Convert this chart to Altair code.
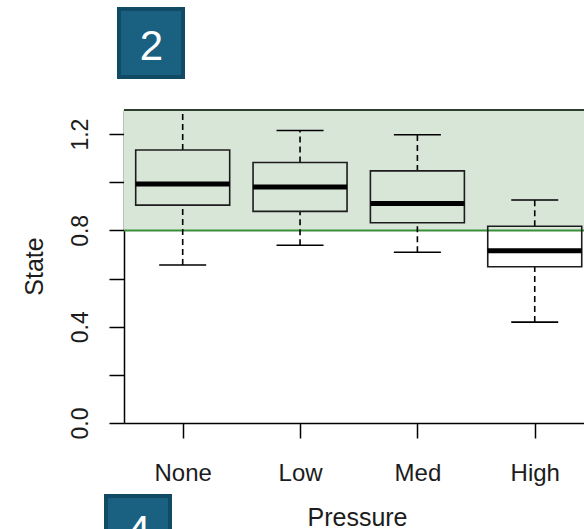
import json
import altair as alt
import pandas as pd

# ---- data ----
categories = ["None", "Low", "Med", "High"]
whisker_low = [0.656, 0.738, 0.709, 0.419]
quartile_1 = [0.905, 0.879, 0.832, 0.649]
medians = [0.993, 0.980, 0.912, 0.715]
quartile_3 = [1.134, 1.082, 1.047, 0.817]
whisker_high = [1.36, 1.215, 1.197, 0.926]
y_ticks = [0.0, 0.2, 0.4, 0.6, 0.8, 1.0, 1.2]
y_labelled = [0.0, 0.4, 0.8, 1.2]
threshold = [0.8]
zone_top = [1.30]
badges = ["2", "4"]

FONT = "Liberation Sans"
INK = "#1c1c1c"
W, H = 460, 313

df = pd.DataFrame({
    "cat": categories,
    "lo": whisker_low,
    "q1": quartile_1,
    "med": medians,
    "q3": quartile_3,
    "hi": whisker_high,
})
zone = pd.DataFrame({"y0": threshold, "y1": zone_top})

label_expr = (
    f"indexof({json.dumps(y_labelled)}, datum.value) >= 0 ? format(datum.value, '.1f') : ''"
)

yscale = alt.Scale(domain=[0.0, zone_top[0]], nice=False, zero=False)
yaxis = alt.Axis(
    values=y_ticks, labelExpr=label_expr, grid=False,
    domainColor="#000", domainWidth=1.5, tickColor="#000", tickWidth=1.5, tickSize=15,
    labelAngle=270, labelAlign="center", labelBaseline="alphabetic", labelPadding=22,
    labelFont=FONT, labelFontSize=23, labelColor=INK, labelOverlap=False,
    titleFont=FONT, titleFontSize=25, titleFontWeight="normal", titleColor=INK,
    titleAngle=270, titleAlign="center", titleBaseline="alphabetic",
    titleX=-82, titleY=156,
)
xscale = alt.Scale(type="point", domain=categories, padding=0.46, align=0.5437)
xaxis = alt.Axis(
    grid=False, labelAngle=0,
    domainColor="#000", domainWidth=1.5, tickColor="#000", tickWidth=1.5, tickSize=15,
    labelFont=FONT, labelFontSize=24, labelColor=INK, labelBaseline="alphabetic",
    labelPadding=42,
    titleFont=FONT, titleFontSize=25, titleFontWeight="normal", titleColor=INK,
    titleAlign="center", titleBaseline="alphabetic", titleX=233, titleY=102,
)


def X():
    return alt.X("cat:N", scale=xscale, axis=xaxis, title="Pressure", sort=categories)


def Y(field):
    return alt.Y(f"{field}:Q", scale=yscale, axis=yaxis, title="State")


base = alt.Chart(df)

zone_rect = alt.Chart(zone).mark_rect(color="#d8e6d8", opacity=1).encode(
    x=alt.value(0), x2=alt.value(W), y=Y("y0"), y2="y1"
)
zone_border = alt.Chart(zone).mark_rule(color="#2f3d2f", strokeWidth=2, opacity=1).encode(
    x=alt.value(0), x2=alt.value(W), y=Y("y1")
)
zone_line = alt.Chart(zone).mark_rule(color="#3a8f3a", strokeWidth=2, opacity=1).encode(
    x=alt.value(0), x2=alt.value(W), y=Y("y0")
)

whisk_up = base.mark_rule(color="#000", strokeWidth=1.6, strokeDash=[6, 4], clip=True,
                          opacity=1).encode(x=X(), y=Y("q3"), y2="hi")
whisk_dn = base.mark_rule(color="#000", strokeWidth=1.6, strokeDash=[6, 4], clip=True,
                          opacity=1).encode(x=X(), y=Y("lo"), y2="q1")
cap_hi = base.mark_tick(color="#000", size=47, thickness=1.6, clip=True, opacity=1).encode(
    x=X(), y=Y("hi"))
cap_lo = base.mark_tick(color="#000", size=47, thickness=1.6, clip=True, opacity=1).encode(
    x=X(), y=Y("lo"))
boxes = base.mark_bar(filled=False, stroke=INK, strokeWidth=1.6, size=94, opacity=1).encode(
    x=X(), y=Y("q1"), y2="q3"
)
meds = base.mark_tick(color="#000", size=94, thickness=5, opacity=1).encode(
    x=X(), y=Y("med"))

badge2 = alt.Chart(pd.DataFrame({"badge": [badges[0]]}))
badge4 = alt.Chart(pd.DataFrame({"badge": [badges[1]]}))
b2_rect = badge2.mark_rect(fill="#1a6080", stroke="#104a64", strokeWidth=4, opacity=1).encode(
    x=alt.value(-5), x2=alt.value(59), y=alt.value(-101), y2=alt.value(-33)
)
b2_text = badge2.mark_text(font=FONT, fontSize=42, color="white", align="center",
                           baseline="alphabetic").encode(
    text="badge:N", x=alt.value(27.5), y=alt.value(-50.5)
)
b4_rect = badge4.mark_rect(fill="#1a6080", stroke="#104a64", strokeWidth=4, opacity=1).encode(
    x=alt.value(-18), x2=alt.value(46), y=alt.value(386), y2=alt.value(460)
)
b4_text = badge4.mark_text(font=FONT, fontSize=42, color="white", align="center",
                           baseline="alphabetic").encode(
    text="badge:N", x=alt.value(15), y=alt.value(435)
)

chart = alt.layer(
    zone_rect, zone_border, zone_line, whisk_up, whisk_dn, cap_hi, cap_lo, boxes, meds,
    b2_rect, b2_text, b4_rect, b4_text,
).properties(
    width=W, height=H,
    autosize=alt.AutoSizeParams(type="none"),
    padding={"left": 124, "top": 110, "right": 0, "bottom": 106},
    background="white",
).configure_view(strokeWidth=0)

chart.save("out.html", embed_options={"renderer": "svg", "actions": False})
